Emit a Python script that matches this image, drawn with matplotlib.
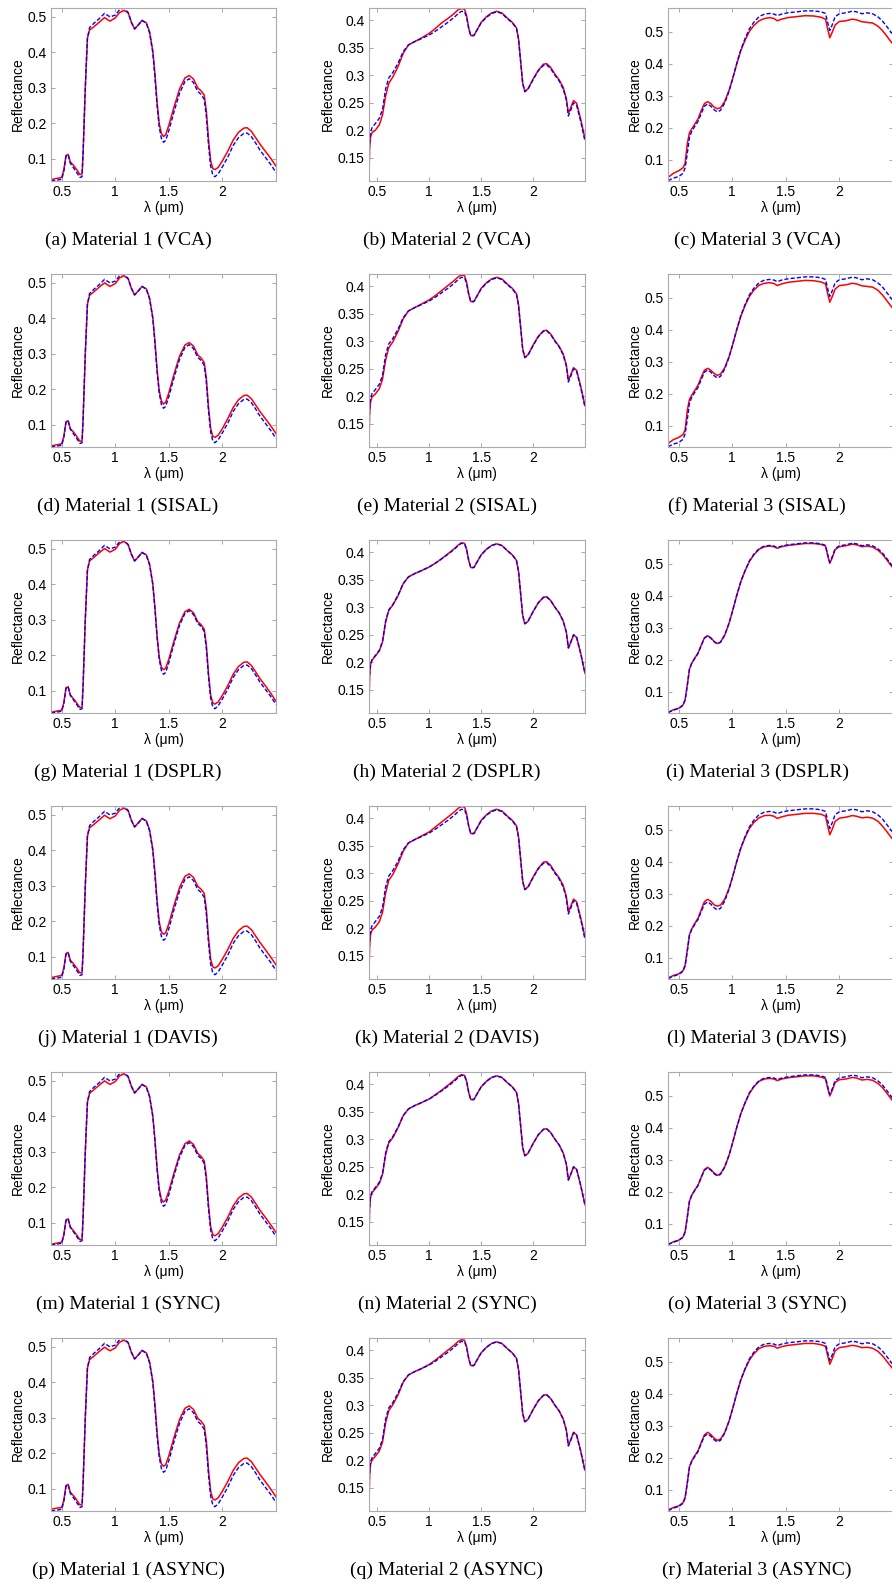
import matplotlib
matplotlib.use('Agg')
import matplotlib.pyplot as plt
from matplotlib.ticker import FormatStrFormatter, FuncFormatter

# wavelength grids (um) for the three endmembers
w1 = [0.40, 0.45, 0.50, 0.52, 0.54, 0.56, 0.58, 0.61, 0.64, 0.67, 0.69, 0.70, 0.72, 0.74, 0.76, 0.80,
      0.85, 0.90, 0.95, 1.00, 1.04, 1.08, 1.12, 1.15, 1.18, 1.21, 1.25, 1.29, 1.32, 1.35, 1.37, 1.39,
      1.41, 1.43, 1.45, 1.47, 1.50, 1.55, 1.60, 1.65, 1.69, 1.73, 1.77, 1.80, 1.83, 1.85, 1.87, 1.89,
      1.91, 1.93, 1.96, 2.00, 2.05, 2.10, 2.15, 2.20, 2.23, 2.27, 2.31, 2.35, 2.40, 2.45, 2.50]
w2 = [0.42, 0.425, 0.435, 0.45, 0.48, 0.52, 0.55, 0.58, 0.61, 0.65, 0.70, 0.75, 0.80, 0.86, 0.92, 1.00,
      1.06, 1.12, 1.18, 1.24, 1.28, 1.31, 1.34, 1.36, 1.38, 1.40, 1.43, 1.46, 1.50, 1.55, 1.60, 1.65,
      1.70, 1.75, 1.80, 1.84, 1.86, 1.88, 1.90, 1.92, 1.95, 2.00, 2.05, 2.10, 2.13, 2.17, 2.21, 2.25,
      2.29, 2.32, 2.34, 2.36, 2.39, 2.42, 2.46, 2.50]
w3 = [0.40, 0.45, 0.50, 0.54, 0.56, 0.58, 0.60, 0.62, 0.65, 0.68, 0.71, 0.74, 0.77, 0.80, 0.83, 0.86,
      0.89, 0.93, 0.97, 1.00, 1.04, 1.08, 1.12, 1.16, 1.20, 1.25, 1.30, 1.35, 1.39, 1.42, 1.46, 1.52,
      1.60, 1.68, 1.76, 1.83, 1.87, 1.89, 1.91, 1.93, 1.96, 2.00, 2.06, 2.12, 2.16, 2.21, 2.26, 2.31,
      2.36, 2.40, 2.44, 2.48, 2.50]

# ground truth (blue dashed)
true1 = [0.038, 0.040, 0.043, 0.065, 0.108, 0.112, 0.088, 0.075, 0.062, 0.048, 0.050, 0.12, 0.30, 0.44, 0.47, 0.482,
         0.495, 0.510, 0.500, 0.505, 0.520, 0.525, 0.512, 0.485, 0.466, 0.475, 0.490, 0.482, 0.455, 0.400, 0.33, 0.25,
         0.19, 0.158, 0.147, 0.152, 0.180, 0.235, 0.285, 0.318, 0.326, 0.315, 0.290, 0.282, 0.268, 0.22, 0.14, 0.08,
         0.055, 0.050, 0.058, 0.078, 0.105, 0.138, 0.160, 0.172, 0.173, 0.163, 0.145, 0.125, 0.105, 0.085, 0.062]
true2 = [0.108, 0.175, 0.197, 0.205, 0.212, 0.222, 0.238, 0.275, 0.295, 0.305, 0.322, 0.343, 0.355, 0.361, 0.366, 0.373,
         0.380, 0.388, 0.396, 0.405, 0.412, 0.416, 0.415, 0.405, 0.385, 0.372, 0.372, 0.382, 0.395, 0.405, 0.412, 0.415,
         0.412, 0.403, 0.395, 0.385, 0.365, 0.325, 0.285, 0.270, 0.274, 0.292, 0.308, 0.318, 0.319, 0.312, 0.300, 0.290,
         0.275, 0.255, 0.226, 0.235, 0.250, 0.245, 0.215, 0.180]
true3 = [0.035, 0.043, 0.048, 0.058, 0.075, 0.120, 0.170, 0.188, 0.205, 0.220, 0.245, 0.268, 0.275, 0.268, 0.257, 0.250,
         0.255, 0.278, 0.315, 0.350, 0.400, 0.445, 0.480, 0.510, 0.530, 0.548, 0.556, 0.558, 0.556, 0.551, 0.556, 0.560,
         0.563, 0.566, 0.566, 0.563, 0.558, 0.530, 0.505, 0.520, 0.548, 0.557, 0.560, 0.565, 0.563, 0.557, 0.560, 0.557,
         0.547, 0.535, 0.518, 0.500, 0.492]

# estimated endmembers (red), material 1
vca1 = [0.042, 0.045, 0.048, 0.070, 0.110, 0.113, 0.092, 0.082, 0.070, 0.056, 0.058, 0.12, 0.30, 0.44, 0.463, 0.472,
        0.485, 0.498, 0.488, 0.497, 0.512, 0.518, 0.512, 0.485, 0.466, 0.476, 0.490, 0.483, 0.458, 0.405, 0.34, 0.26,
        0.20, 0.172, 0.163, 0.168, 0.195, 0.248, 0.297, 0.328, 0.335, 0.325, 0.300, 0.292, 0.280, 0.235, 0.155, 0.095,
        0.073, 0.070, 0.076, 0.095, 0.122, 0.153, 0.175, 0.187, 0.188, 0.178, 0.160, 0.142, 0.122, 0.102, 0.080]
sisal1 = [0.041, 0.044, 0.047, 0.068, 0.109, 0.112, 0.090, 0.080, 0.068, 0.054, 0.056, 0.12, 0.30, 0.44, 0.465, 0.475,
          0.488, 0.500, 0.490, 0.498, 0.514, 0.520, 0.512, 0.485, 0.466, 0.476, 0.490, 0.483, 0.457, 0.403, 0.337, 0.257,
          0.197, 0.168, 0.159, 0.164, 0.191, 0.245, 0.294, 0.325, 0.332, 0.322, 0.297, 0.289, 0.276, 0.231, 0.151, 0.091,
          0.068, 0.065, 0.071, 0.090, 0.118, 0.149, 0.171, 0.183, 0.184, 0.174, 0.156, 0.138, 0.118, 0.098, 0.076]
dsplr1 = [0.040, 0.043, 0.046, 0.067, 0.109, 0.112, 0.089, 0.078, 0.066, 0.053, 0.055, 0.12, 0.30, 0.44, 0.466, 0.476,
          0.489, 0.501, 0.491, 0.499, 0.515, 0.521, 0.512, 0.485, 0.466, 0.476, 0.490, 0.483, 0.457, 0.402, 0.336, 0.256,
          0.196, 0.167, 0.160, 0.164, 0.190, 0.243, 0.292, 0.323, 0.330, 0.320, 0.295, 0.287, 0.274, 0.229, 0.149, 0.089,
          0.066, 0.063, 0.069, 0.088, 0.115, 0.147, 0.169, 0.181, 0.182, 0.172, 0.154, 0.135, 0.115, 0.094, 0.071]
davis1 = [0.042, 0.045, 0.048, 0.069, 0.110, 0.113, 0.091, 0.081, 0.069, 0.055, 0.057, 0.12, 0.30, 0.44, 0.464, 0.473,
          0.486, 0.499, 0.489, 0.497, 0.513, 0.519, 0.512, 0.485, 0.466, 0.476, 0.490, 0.483, 0.458, 0.404, 0.339, 0.259,
          0.199, 0.171, 0.164, 0.168, 0.194, 0.247, 0.296, 0.327, 0.334, 0.324, 0.299, 0.291, 0.279, 0.234, 0.154, 0.094,
          0.072, 0.069, 0.075, 0.094, 0.121, 0.152, 0.174, 0.186, 0.187, 0.177, 0.159, 0.141, 0.121, 0.100, 0.078]
sync1 = [0.040, 0.043, 0.046, 0.067, 0.108, 0.112, 0.089, 0.078, 0.066, 0.053, 0.055, 0.12, 0.30, 0.44, 0.465, 0.475,
         0.488, 0.500, 0.490, 0.498, 0.514, 0.520, 0.512, 0.485, 0.466, 0.476, 0.490, 0.483, 0.457, 0.402, 0.336, 0.256,
         0.196, 0.167, 0.159, 0.164, 0.190, 0.243, 0.292, 0.323, 0.331, 0.321, 0.296, 0.288, 0.275, 0.230, 0.150, 0.090,
         0.067, 0.064, 0.070, 0.089, 0.116, 0.148, 0.170, 0.182, 0.183, 0.173, 0.155, 0.136, 0.116, 0.095, 0.073]
async1 = [0.043, 0.046, 0.048, 0.069, 0.110, 0.113, 0.091, 0.081, 0.069, 0.055, 0.057, 0.12, 0.30, 0.44, 0.464, 0.474,
          0.487, 0.499, 0.489, 0.497, 0.513, 0.519, 0.512, 0.485, 0.466, 0.476, 0.490, 0.483, 0.458, 0.404, 0.339, 0.259,
          0.199, 0.171, 0.164, 0.168, 0.194, 0.247, 0.296, 0.327, 0.334, 0.324, 0.299, 0.291, 0.279, 0.234, 0.154, 0.094,
          0.072, 0.069, 0.075, 0.094, 0.121, 0.152, 0.174, 0.186, 0.187, 0.177, 0.159, 0.141, 0.121, 0.100, 0.078]

# material 2
vca2 = [0.108, 0.165, 0.188, 0.196, 0.200, 0.210, 0.228, 0.262, 0.285, 0.297, 0.316, 0.340, 0.355, 0.361, 0.367, 0.376,
        0.385, 0.395, 0.403, 0.412, 0.419, 0.421, 0.420, 0.408, 0.386, 0.372, 0.372, 0.382, 0.396, 0.406, 0.413, 0.416,
        0.413, 0.404, 0.396, 0.386, 0.366, 0.326, 0.286, 0.271, 0.275, 0.293, 0.309, 0.320, 0.321, 0.314, 0.302, 0.292,
        0.278, 0.258, 0.231, 0.240, 0.254, 0.249, 0.219, 0.185]
sisal2 = [0.108, 0.168, 0.190, 0.199, 0.204, 0.214, 0.231, 0.266, 0.288, 0.299, 0.318, 0.341, 0.355, 0.361, 0.367, 0.375,
          0.383, 0.392, 0.401, 0.410, 0.417, 0.420, 0.419, 0.407, 0.386, 0.372, 0.372, 0.382, 0.396, 0.406, 0.413, 0.416,
          0.413, 0.404, 0.396, 0.386, 0.366, 0.326, 0.286, 0.271, 0.275, 0.293, 0.309, 0.319, 0.320, 0.313, 0.301, 0.291,
          0.277, 0.257, 0.229, 0.238, 0.252, 0.247, 0.217, 0.183]
dsplr2 = [0.108, 0.173, 0.196, 0.204, 0.211, 0.221, 0.237, 0.273, 0.294, 0.304, 0.321, 0.343, 0.355, 0.361, 0.366, 0.373,
          0.380, 0.388, 0.397, 0.406, 0.413, 0.417, 0.416, 0.405, 0.385, 0.372, 0.372, 0.382, 0.395, 0.405, 0.412, 0.415,
          0.412, 0.403, 0.395, 0.385, 0.365, 0.325, 0.285, 0.270, 0.274, 0.292, 0.308, 0.318, 0.319, 0.312, 0.300, 0.290,
          0.275, 0.255, 0.226, 0.235, 0.250, 0.245, 0.215, 0.180]
davis2 = [0.108, 0.166, 0.189, 0.197, 0.202, 0.212, 0.229, 0.264, 0.287, 0.298, 0.317, 0.340, 0.355, 0.361, 0.367, 0.375,
          0.384, 0.393, 0.402, 0.411, 0.418, 0.421, 0.420, 0.408, 0.386, 0.372, 0.372, 0.382, 0.396, 0.406, 0.413, 0.416,
          0.413, 0.404, 0.396, 0.386, 0.366, 0.326, 0.286, 0.271, 0.275, 0.293, 0.309, 0.320, 0.321, 0.314, 0.302, 0.292,
          0.278, 0.258, 0.230, 0.239, 0.253, 0.248, 0.218, 0.184]
sync2 = [0.108, 0.172, 0.195, 0.203, 0.210, 0.220, 0.236, 0.272, 0.293, 0.303, 0.321, 0.343, 0.355, 0.361, 0.366, 0.373,
         0.381, 0.389, 0.398, 0.407, 0.414, 0.417, 0.416, 0.405, 0.385, 0.372, 0.372, 0.382, 0.395, 0.405, 0.412, 0.415,
         0.412, 0.403, 0.395, 0.385, 0.365, 0.325, 0.285, 0.270, 0.274, 0.292, 0.308, 0.318, 0.319, 0.312, 0.300, 0.290,
         0.275, 0.255, 0.226, 0.235, 0.250, 0.245, 0.215, 0.181]
async2 = [0.108, 0.170, 0.193, 0.201, 0.207, 0.217, 0.233, 0.268, 0.290, 0.301, 0.319, 0.342, 0.355, 0.361, 0.366, 0.374,
          0.382, 0.391, 0.400, 0.409, 0.416, 0.419, 0.418, 0.406, 0.385, 0.372, 0.372, 0.382, 0.395, 0.405, 0.412, 0.415,
          0.412, 0.403, 0.395, 0.385, 0.365, 0.325, 0.285, 0.270, 0.274, 0.292, 0.308, 0.318, 0.319, 0.312, 0.300, 0.290,
          0.275, 0.255, 0.227, 0.236, 0.251, 0.246, 0.216, 0.182]

# material 3
vca3 = [0.045, 0.058, 0.066, 0.075, 0.090, 0.150, 0.185, 0.196, 0.212, 0.228, 0.254, 0.276, 0.282, 0.276, 0.265, 0.260,
        0.263, 0.283, 0.318, 0.350, 0.398, 0.442, 0.475, 0.502, 0.520, 0.535, 0.542, 0.545, 0.542, 0.535, 0.540, 0.545,
        0.548, 0.551, 0.550, 0.546, 0.540, 0.510, 0.482, 0.497, 0.522, 0.533, 0.535, 0.540, 0.538, 0.532, 0.530, 0.528,
        0.518, 0.505, 0.488, 0.470, 0.462]
sisal3 = [0.045, 0.057, 0.064, 0.073, 0.088, 0.148, 0.183, 0.195, 0.211, 0.227, 0.252, 0.274, 0.280, 0.274, 0.264, 0.258,
          0.262, 0.282, 0.317, 0.350, 0.398, 0.443, 0.477, 0.505, 0.524, 0.540, 0.546, 0.548, 0.545, 0.539, 0.544, 0.549,
          0.552, 0.555, 0.554, 0.550, 0.544, 0.514, 0.487, 0.502, 0.528, 0.539, 0.541, 0.546, 0.544, 0.538, 0.536, 0.534,
          0.524, 0.510, 0.493, 0.475, 0.467]
dsplr3 = [0.036, 0.044, 0.049, 0.059, 0.076, 0.121, 0.171, 0.189, 0.206, 0.221, 0.246, 0.269, 0.276, 0.269, 0.258, 0.251,
          0.256, 0.278, 0.315, 0.350, 0.400, 0.445, 0.479, 0.508, 0.528, 0.546, 0.554, 0.556, 0.554, 0.549, 0.554, 0.558,
          0.561, 0.564, 0.564, 0.561, 0.556, 0.527, 0.502, 0.517, 0.545, 0.554, 0.557, 0.562, 0.560, 0.554, 0.556, 0.553,
          0.543, 0.531, 0.514, 0.496, 0.488]
davis3 = [0.037, 0.045, 0.050, 0.060, 0.078, 0.124, 0.172, 0.190, 0.208, 0.224, 0.250, 0.276, 0.283, 0.277, 0.266, 0.262,
          0.265, 0.284, 0.318, 0.350, 0.399, 0.443, 0.477, 0.505, 0.523, 0.538, 0.545, 0.546, 0.543, 0.536, 0.541, 0.546,
          0.549, 0.552, 0.552, 0.549, 0.543, 0.513, 0.485, 0.500, 0.527, 0.537, 0.540, 0.545, 0.543, 0.538, 0.540, 0.537,
          0.527, 0.513, 0.496, 0.478, 0.470]
sync3 = [0.036, 0.044, 0.049, 0.059, 0.076, 0.121, 0.171, 0.189, 0.206, 0.221, 0.246, 0.270, 0.277, 0.270, 0.259, 0.252,
         0.257, 0.279, 0.315, 0.350, 0.400, 0.445, 0.479, 0.508, 0.528, 0.546, 0.553, 0.555, 0.553, 0.548, 0.553, 0.557,
         0.560, 0.563, 0.563, 0.559, 0.554, 0.525, 0.500, 0.515, 0.542, 0.551, 0.553, 0.558, 0.556, 0.550, 0.552, 0.549,
         0.539, 0.527, 0.510, 0.492, 0.484]
async3 = [0.037, 0.045, 0.050, 0.060, 0.077, 0.122, 0.172, 0.190, 0.207, 0.222, 0.248, 0.272, 0.280, 0.273, 0.262, 0.255,
          0.259, 0.280, 0.316, 0.350, 0.399, 0.444, 0.478, 0.506, 0.525, 0.542, 0.549, 0.551, 0.549, 0.543, 0.548, 0.552,
          0.555, 0.558, 0.558, 0.554, 0.549, 0.520, 0.493, 0.508, 0.535, 0.545, 0.548, 0.552, 0.550, 0.545, 0.546, 0.543,
          0.533, 0.520, 0.503, 0.486, 0.478]

methods = ['VCA', 'SISAL', 'DSPLR', 'DAVIS', 'SYNC', 'ASYNC']
letters = 'abcdefghijklmnopqr'
waves = [w1, w2, w3]
truths = [true1, true2, true3]
estimates = [[vca1, sisal1, dsplr1, davis1, sync1, async1],
             [vca2, sisal2, dsplr2, davis2, sync2, async2],
             [vca3, sisal3, dsplr3, davis3, sync3, async3]]
ylims = [(0.038, 0.525), (0.108, 0.422), (0.034, 0.575)]
xlims = [(0.40, 2.50), (0.42, 2.50), (0.40, 2.50)]
yticks = [[0.1, 0.2, 0.3, 0.4, 0.5], [0.15, 0.2, 0.25, 0.3, 0.35, 0.4], [0.1, 0.2, 0.3, 0.4, 0.5]]

W, H = 892, 1586
fig = plt.figure(figsize=(W / 100, H / 100), dpi=100)
plt.rcParams['font.family'] = ['Liberation Sans', 'DejaVu Sans']

col_left = [51, 369, 668]
col_width = [225, 216, 225]
cap_x = [128, 447, 757]
ax_h = 173

gfmt = FuncFormatter(lambda v, p: '%g' % v)

for r, meth in enumerate(methods):
    top = 8 + 266 * r
    for c in range(3):
        ax = fig.add_axes([col_left[c] / W, 1 - (top + ax_h) / H, col_width[c] / W, ax_h / H])
        ax.plot(waves[c], estimates[c][r], color='red', lw=1.1)
        ax.plot(waves[c], truths[c], color='blue', lw=1.0, ls='--', dashes=(3, 1.5))
        ax.set_xlim(*xlims[c])
        ax.set_ylim(*ylims[c])
        ax.set_xticks([0.5, 1, 1.5, 2])
        ax.set_yticks(yticks[c])
        ax.xaxis.set_major_formatter(gfmt)
        ax.yaxis.set_major_formatter(gfmt)
        ax.tick_params(direction='in', length=3, width=0.6, color='#999999',
                       top=True, right=True, labelsize=10, pad=3)
        for s in ax.spines.values():
            s.set_color('#aaaaaa')
            s.set_linewidth(0.8)
        ax.set_ylabel('Reflectance', fontsize=10, labelpad=2)
        ax.set_xlabel('λ (μm)', fontsize=10, labelpad=1)
        idx = r * 3 + c
        fig.text(cap_x[c] / W, 1 - (240 + 266 * r) / H,
                 '(%s) Material %d (%s)' % (letters[idx], c + 1, meth),
                 ha='center', va='center', fontsize=14, family='Liberation Serif')

fig.savefig('out.png', dpi=100)
